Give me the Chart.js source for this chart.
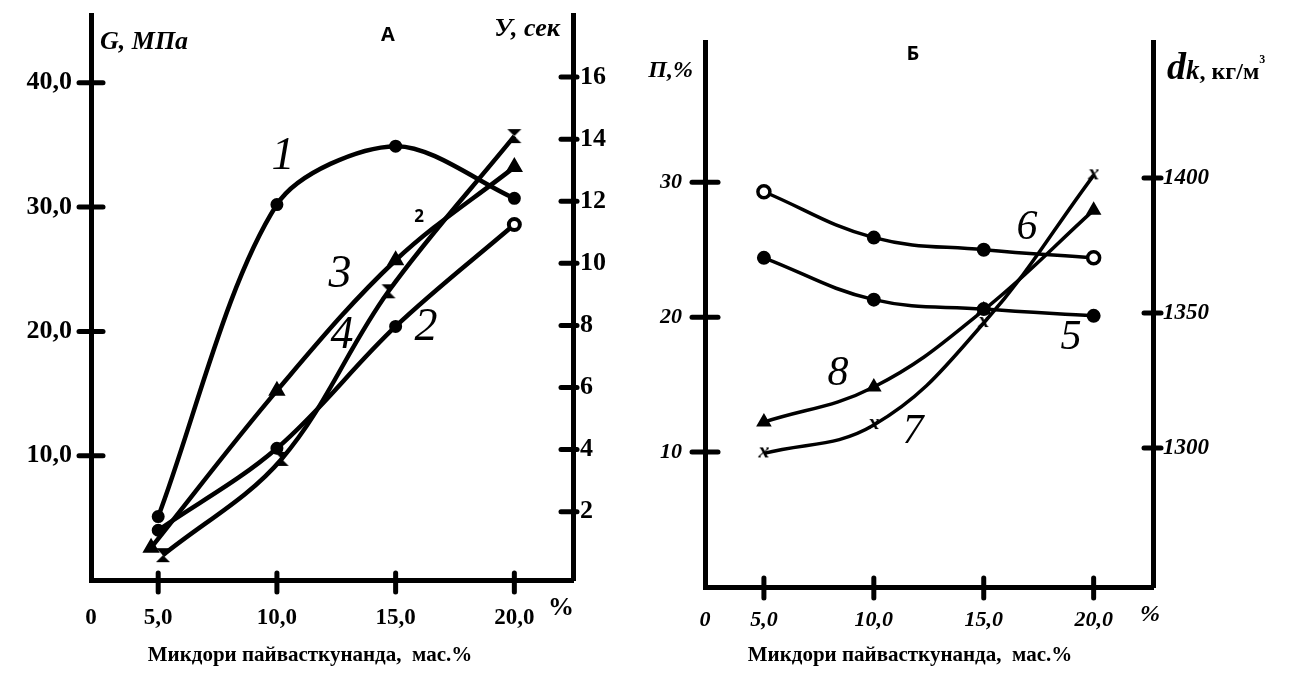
<!DOCTYPE html>
<html>
<head>
<meta charset="utf-8">
<script src="https://cdn.jsdelivr.net/npm/chart.js@4.4.1/dist/chart.umd.min.js"></script>
<style>
  html, body { margin: 0; padding: 0; background: #fff; }
  #wrap { position: relative; width: 1293px; height: 675px; overflow: hidden; }
  canvas { position: absolute; left: 0; top: 0; }
</style>
</head>
<body>
<div id="wrap">
  <canvas id="chartA" width="1293" height="675"></canvas>
  <canvas id="chartB" width="1293" height="675"></canvas>
</div>
<script>
// ---- Панел А ----
const A_X = [5, 10, 15, 20];
const A_X_TRI = [4.7, 10, 15, 20];
const A_X_CROSS = [5.2, 10.2, 14.7, 20];
const A_CURVE1 = [5.1, 30.2, 34.9, 30.7];   // G, МПа
const A_CURVE2 = [4.0, 10.6, 20.4, 28.6];   // G, МПа
const A_CURVE3 = [0.84, 5.9, 10.1, 13.1];   // У, сек
const A_CURVE4 = [0.6, 3.7, 9.1, 14.1];     // У, сек
const A_G_TICKS = [10, 20, 30, 40];
const A_Y_TICKS = [2, 4, 6, 8, 10, 12, 14, 16];

// ---- Панел Б ----
const B_X = [5, 10, 15, 20];
const B_CURVE5 = [24.4, 21.3, 20.6, 20.1];        // П, %
const B_CURVE6 = [29.3, 25.9, 25.0, 24.4];        // П, %
const B_CURVE7 = [1298, 1308.5, 1346.3, 1401];    // dk, кг/м3
const B_CURVE8 = [1309.6, 1322.6, 1351.1, 1388.1];
const B_P_TICKS = [10, 20, 30];
const B_D_TICKS = [1300, 1350, 1400];

const X_TICKS = [5, 10, 15, 20];
const X_MIN_A = 2.17, X_MAX_A = 22.47;
const X_MIN_B = 2.32, X_MAX_B = 22.7;

const SERIF = '"Liberation Serif", "Times New Roman", serif';
const SANS = '"Open Sans", "DejaVu Sans", sans-serif';

function pts(xs, ys) {
  return xs.map((x, i) => ({ x, y: ys[i] }));
}
function comma(v) {
  return v.toFixed(1).replace('.', ',');
}

// marker images
function hourglass(size) {
  const c = document.createElement('canvas');
  c.width = c.height = size;
  const g = c.getContext('2d');
  g.fillStyle = '#000';
  g.beginPath(); g.moveTo(1, 1); g.lineTo(size - 1, 1); g.lineTo(size / 2, size / 2); g.closePath(); g.fill();
  g.beginPath(); g.moveTo(1, size - 1); g.lineTo(size - 1, size - 1); g.lineTo(size / 2, size / 2); g.closePath(); g.fill();
  return c;
}
function letterX(size) {
  const c = document.createElement('canvas');
  c.width = c.height = size;
  const g = c.getContext('2d');
  g.fillStyle = '#000';
  g.font = 'italic bold 22px ' + SERIF;
  g.textAlign = 'center';
  g.textBaseline = 'middle';
  g.fillText('x', size / 2, size / 2 - 2);
  return c;
}

// tick marks that cross the axis line (inner = into plot area)
const crossTicks = {
  id: 'crossTicks',
  afterDraw(chart, args, opts) {
    const ctx = chart.ctx, a = chart.chartArea;
    ctx.save();
    ctx.strokeStyle = '#000';
    ctx.lineWidth = 5;
    ctx.lineCap = 'round';
    opts.list.forEach((t) => {
      const s = chart.scales[t.scale];
      t.values.forEach((v) => {
        const p = s.getPixelForValue(v);
        ctx.beginPath();
        if (s.isHorizontal()) {
          ctx.moveTo(p, a.bottom - t.inner);
          ctx.lineTo(p, a.bottom + t.outer);
        } else if (s.position === 'left') {
          ctx.moveTo(a.left - t.outer, p);
          ctx.lineTo(a.left + t.inner, p);
        } else {
          ctx.moveTo(a.right - t.inner, p);
          ctx.lineTo(a.right + t.outer, p);
        }
        ctx.stroke();
      });
    });
    ctx.restore();
  }
};

// free texts: axis titles, curve numbers, captions
const texts = {
  id: 'texts',
  afterDraw(chart, args, opts) {
    const ctx = chart.ctx;
    ctx.save();
    ctx.fillStyle = '#000';
    opts.items.forEach((it) => {
      ctx.textBaseline = it.baseline || 'middle';
      if (it.parts) {
        let x = it.x;
        ctx.textAlign = 'left';
        it.parts.forEach((p) => {
          ctx.font = p.font;
          ctx.fillText(p.text, x, it.y + (p.dy || 0));
          x += ctx.measureText(p.text).width + (p.gap || 0);
        });
      } else {
        ctx.font = it.font;
        ctx.textAlign = it.align || 'center';
        ctx.fillText(it.text, it.x, it.y);
      }
    });
    ctx.restore();
  }
};

function fixTicks(values) {
  return (scale) => { scale.ticks = values.map((v) => ({ value: v })); };
}
function fixWidth(w) {
  return (scale) => { scale.width = w; scale.paddingTop = 0; scale.paddingBottom = 0; };
}
function fixHeight(h) {
  return (scale) => { scale.height = h; scale.paddingLeft = 0; scale.paddingRight = 0; };
}

const axisBorder = { display: true, color: '#000', width: 5 };
const noGrid = { display: false, drawTicks: false };

// ================= Chart А =================
new Chart(document.getElementById('chartA'), {
  type: 'line',
  data: {
    datasets: [
      { label: '1', data: pts(A_X, A_CURVE1), yAxisID: 'yG', pointStyle: 'circle', pointRadius: 5.5,
        pointBackgroundColor: '#000', tension: 0.3 },
      { label: '2', data: pts(A_X, A_CURVE2), yAxisID: 'yG', pointStyle: 'circle', pointRadius: 5.5,
        pointBackgroundColor: ['#000', '#000', '#000', '#fff'], pointBorderWidth: [2, 2, 2, 4] },
      { label: '3', data: pts(A_X_TRI, A_CURVE3), yAxisID: 'yU', pointStyle: 'triangle', pointRadius: 8,
        pointBackgroundColor: '#000' },
      { label: '4', data: pts(A_X_CROSS, A_CURVE4), yAxisID: 'yU', pointStyle: hourglass(16), pointRadius: 8 }
    ].map((d) => Object.assign({ borderColor: '#000', borderWidth: 4.5, tension: 0.35,
      pointBorderColor: '#000', pointBorderWidth: 2, fill: false }, d))
  },
  options: {
    responsive: false,
    animation: false,
    devicePixelRatio: 1,
    layout: { padding: { top: 15, left: 0, right: 0, bottom: 0 } },
    plugins: {
      legend: { display: false },
      tooltip: { enabled: false },
      crossTicks: {
        list: [
          { scale: 'x', values: X_TICKS, inner: 7, outer: 12 },
          { scale: 'yG', values: A_G_TICKS, inner: 12, outer: 12 },
          { scale: 'yU', values: A_Y_TICKS, inner: 12, outer: 4 }
        ]
      },
      texts: {
        items: [
          { text: 'G, МПа', x: 100, y: 42, align: 'left', font: 'italic bold 26px ' + SERIF },
          { text: 'А', x: 388, y: 35, font: 'bold 20px ' + SANS },
          { text: 'У, сек', x: 560, y: 29, align: 'right', font: 'italic bold 26px ' + SERIF },
          { text: '1', x: 283, y: 157, font: 'italic 46px ' + SERIF },
          { text: '3', x: 340, y: 275, font: 'italic 46px ' + SERIF },
          { text: '4', x: 342, y: 336, font: 'italic 46px ' + SERIF },
          { text: '2', x: 426, y: 328, font: 'italic 46px ' + SERIF },
          { text: '2', x: 419, y: 217, font: 'bold 17px ' + SANS },
          { text: '%', x: 561, y: 608, font: 'bold 26px ' + SERIF },
          { text: 'Микдори пайвасткунанда,  мас.%', x: 310, y: 656, font: 'bold 21px ' + SERIF }
        ]
      }
    },
    scales: {
      x: {
        type: 'linear', position: 'bottom', min: X_MIN_A, max: X_MAX_A,
        afterFit: fixHeight(95),
        afterBuildTicks: fixTicks([X_MIN_A].concat(X_TICKS)),
        border: axisBorder, grid: noGrid,
        ticks: {
          autoSkip: false, maxRotation: 0, padding: 24, color: '#000',
          font: { family: SERIF, size: 23, weight: 'bold' },
          callback: (v) => (v === X_MIN_A ? '0' : comma(v))
        }
      },
      yG: {
        type: 'linear', position: 'left', min: 0, max: 45.45,
        afterFit: fixWidth(91),
        afterBuildTicks: fixTicks(A_G_TICKS),
        border: axisBorder, grid: noGrid,
        ticks: { padding: 19, color: '#000', font: { family: SERIF, size: 26, weight: 'bold' },
          callback: (v) => comma(v) }
      },
      yU: {
        type: 'linear', position: 'right', min: -0.2, max: 18,
        afterFit: fixWidth(1293 - 573),
        afterBuildTicks: fixTicks(A_Y_TICKS),
        border: axisBorder, grid: noGrid,
        ticks: { padding: 7, color: '#000', font: { family: SERIF, size: 26, weight: 'bold' },
          callback: (v) => String(v) }
      }
    }
  },
  plugins: [crossTicks, texts]
});

// ================= Chart Б =================
new Chart(document.getElementById('chartB'), {
  type: 'line',
  data: {
    datasets: [
      { label: '5', data: pts(B_X, B_CURVE5), yAxisID: 'yP', pointStyle: 'circle', pointRadius: 6,
        pointBackgroundColor: '#000' },
      { label: '6', data: pts(B_X, B_CURVE6), yAxisID: 'yP', pointStyle: 'circle', pointRadius: 6,
        pointBackgroundColor: ['#fff', '#000', '#000', '#fff'], pointBorderWidth: [3.5, 2, 2, 3.5] },
      { label: '7', data: pts(B_X, B_CURVE7), yAxisID: 'yD', pointStyle: letterX(24), pointRadius: 8 },
      { label: '8', data: pts(B_X, B_CURVE8), yAxisID: 'yD', pointStyle: 'triangle', pointRadius: 7,
        pointBackgroundColor: '#000' }
    ].map((d) => Object.assign({ borderColor: '#000', borderWidth: 3.5, tension: 0.4,
      pointBorderColor: '#000', pointBorderWidth: 2, fill: false }, d))
  },
  options: {
    responsive: false,
    animation: false,
    devicePixelRatio: 1,
    layout: { padding: { top: 42, left: 0, right: 0, bottom: 0 } },
    plugins: {
      legend: { display: false },
      tooltip: { enabled: false },
      crossTicks: {
        list: [
          { scale: 'x', values: X_TICKS, inner: 9, outer: 11 },
          { scale: 'yP', values: B_P_TICKS, inner: 13, outer: 13 },
          { scale: 'yD', values: B_D_TICKS, inner: 9, outer: 8 }
        ]
      },
      texts: {
        items: [
          { text: 'П,%', x: 693, y: 71, align: 'right', font: 'italic bold 24px ' + SERIF },
          { text: 'Б', x: 913, y: 54, font: 'bold 20px ' + SANS },
          { x: 1167, y: 79, baseline: 'alphabetic', parts: [
            { text: 'd', font: 'italic bold 38px ' + SERIF },
            { text: 'k', font: 'italic bold 27px ' + SERIF },
            { text: ', кг/м', font: 'bold 24px ' + SERIF },
            { text: '3', font: 'bold 12px ' + SERIF, dy: -16 }
          ] },
          { text: '6', x: 1027, y: 228, font: 'italic 42px ' + SERIF },
          { text: '5', x: 1071, y: 338, font: 'italic 42px ' + SERIF },
          { text: '8', x: 838, y: 374, font: 'italic 42px ' + SERIF },
          { text: '7', x: 913, y: 432, font: 'italic 42px ' + SERIF },
          { text: '%', x: 1150, y: 615, font: 'italic bold 24px ' + SERIF },
          { text: 'Микдори пайвасткунанда,  мас.%', x: 910, y: 656, font: 'bold 21px ' + SERIF }
        ]
      }
    },
    scales: {
      x: {
        type: 'linear', position: 'bottom', min: X_MIN_B, max: X_MAX_B,
        afterFit: fixHeight(675 - 587),
        afterBuildTicks: fixTicks([X_MIN_B].concat(X_TICKS)),
        border: axisBorder, grid: noGrid,
        ticks: {
          autoSkip: false, maxRotation: 0, padding: 20, color: '#000',
          font: { family: SERIF, size: 22, weight: 'bold', style: 'italic' },
          callback: (v) => (v === X_MIN_B ? '0' : comma(v))
        }
      },
      yP: {
        type: 'linear', position: 'left', min: 0, max: 40.4,
        afterFit: fixWidth(705),
        afterBuildTicks: fixTicks(B_P_TICKS),
        border: axisBorder, grid: noGrid,
        ticks: { padding: 23, color: '#000', font: { family: SERIF, size: 22, weight: 'bold', style: 'italic' },
          callback: (v) => String(v) }
      },
      yD: {
        type: 'linear', position: 'right', min: 1248.5, max: 1450.4,
        afterFit: fixWidth(1293 - 1153),
        afterBuildTicks: fixTicks(B_D_TICKS),
        border: axisBorder, grid: noGrid,
        ticks: { padding: 10, color: '#000', font: { family: SERIF, size: 23, weight: 'bold', style: 'italic' },
          callback: (v) => String(v) }
      }
    }
  },
  plugins: [crossTicks, texts]
});
</script>
</body>
</html>
